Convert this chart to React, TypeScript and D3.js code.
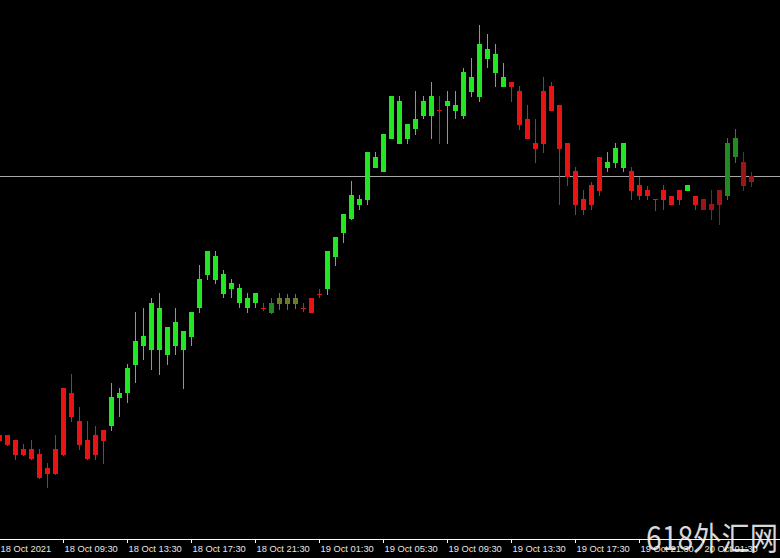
import React from 'react';
import * as d3 from 'd3';

// Price values in points (chart units)
const HIGH = [566,565,560,556,560,551,537,565,612,626,593,579,574,570,617,612,636,688,692,702,707,673,692,669,688,735,749,749,730,721,716,707,707,697,702,707,706,706,697,702,711,749,763,786,819,805,848,848,866,904,904,876,909,904,918,904,909,909,932,942,975,966,956,937,918,914,895,881,923,918,895,857,833,810,818,843,848,857,857,833,823,814,801,815,804,810,815,804,801,810,810,862,871,848,828];
const OPEN = [565,565,560,551,551,546,532,551,612,607,579,560,565,570,574,602,607,635,654,650,650,645,654,650,663,692,725,720,706,711,697,692,697,692,687,696,696,696,692,702,706,711,743,767,781,795,800,832,828,861,856,861,871,884,884,890,894,889,884,908,903,941,927,913,918,909,881,857,909,914,895,857,829,801,815,843,832,837,832,829,815,810,801,810,804,810,809,804,801,796,810,804,843,838,824];
const CLOSE = [559,555,545,545,541,522,526,526,545,583,555,541,545,559,603,607,632,659,664,697,692,673,678,669,688,721,749,744,726,717,712,702,707,692,697,702,702,702,692,687,706,749,763,786,805,801,848,843,866,904,899,876,881,899,904,890,899,895,928,923,956,951,946,923,913,875,861,851,856,889,851,823,795,790,795,809,838,852,857,809,804,804,801,800,795,800,815,795,790,790,795,857,862,814,818];
const LOW = [558,554,540,544,540,521,512,525,544,578,550,540,540,536,569,583,597,617,640,630,625,635,645,611,654,687,720,716,702,702,692,687,692,689,686,690,690,691,688,687,702,705,734,757,780,790,795,832,828,861,856,856,865,881,861,856,856,881,881,903,898,932,913,913,898,870,861,837,847,889,795,814,785,785,790,804,828,832,828,800,800,800,789,790,795,795,809,790,790,780,775,800,837,809,813];
// r = red, g = lime, dr = dark red, dg = dark green, ol = olive
const COLORS = ['r','r','r','r','r','r','r','r','r','r','r','r','r','r','g','g','g','g','g','g','g','g','g','g','g','g','g','g','g','g','g','g','g','r','dg','ol','ol','ol','r','r','r','g','g','g','g','g','g','g','g','g','g','g','g','g','g','r','g','g','g','g','g','g','g','g','r','r','r','r','r','r','r','r','r','r','r','r','g','g','g','r','r','r','r','r','r','r','g','r','dr','dr','dr','dg','dg','dr','dr'];
const TICK_LABELS = ['18 Oct 2021','18 Oct 09:30','18 Oct 13:30','18 Oct 17:30','18 Oct 21:30','19 Oct 01:30','19 Oct 05:30','19 Oct 09:30','19 Oct 13:30','19 Oct 17:30','19 Oct 21:30','20 Oct 01:30'];
const TICK_EVERY = 8;
const CURRENT_PRICE = 824;
const WATERMARK = '618外汇网';

const PALETTE: Record<string, string> = {
  r: '#e81414',
  g: '#22e622',
  dr: '#9c1616',
  dg: '#238a23',
  ol: '#6e7a2a',
};

const W = 780;
const H = 558;
const AXIS_Y = 539;

export default function App() {
  const n = HIGH.length;
  const x = d3.scaleLinear().domain([0, n - 1]).range([-0.5, -0.5 + 8 * (n - 1)]);
  const y = d3.scaleLinear().domain([461, 1000]).range([AXIS_Y, 0]);
  const bodyW = 5;

  return (
    <div style={{ position: 'fixed', left: 0, top: 0, width: W, height: H, background: '#000' }}>
      <svg width={W} height={H} style={{ display: 'block' }}>
        <rect x={0} y={0} width={W} height={H} fill="#000" />
        <line x1={0} x2={W} y1={Math.round(y(CURRENT_PRICE)) + 0.5} y2={Math.round(y(CURRENT_PRICE)) + 0.5} stroke="#a8a8a8" strokeWidth={1} />
        {HIGH.map((h, i) => {
          const cx = x(i);
          const col = PALETTE[COLORS[i]];
          const top = Math.round(y(Math.max(OPEN[i], CLOSE[i])));
          const bot = Math.round(y(Math.min(OPEN[i], CLOSE[i])));
          const bh = Math.max(1, bot - top);
          return (
            <g key={i}>
              <line x1={cx} x2={cx} y1={Math.round(y(h))} y2={Math.round(y(LOW[i]))} stroke={col} strokeWidth={1} />
              <rect x={cx - bodyW / 2} y={top} width={bodyW} height={bh} fill={col} />
            </g>
          );
        })}
        <line x1={0} x2={W} y1={AXIS_Y + 0.5} y2={AXIS_Y + 0.5} stroke="#ffffff" strokeWidth={1} />
        {TICK_LABELS.map((t, j) => {
          const tx = x(j * TICK_EVERY);
          return (
            <g key={t}>
              <line x1={tx} x2={tx} y1={AXIS_Y} y2={AXIS_Y + 4} stroke="#ffffff" strokeWidth={1} />
              <text x={Math.max(0, tx + 1)} y={552} fill="#e6e6e6" fontSize={9.3} fontFamily="'Liberation Sans', Arial, sans-serif">{t}</text>
            </g>
          );
        })}
        <text x={646} y={550} fill="#ffffff" fillOpacity={0.85} fontSize={32} fontFamily="'Noto Sans CJK SC', sans-serif" textLength={132} lengthAdjust="spacingAndGlyphs">{WATERMARK}</text>
      </svg>
    </div>
  );
}
